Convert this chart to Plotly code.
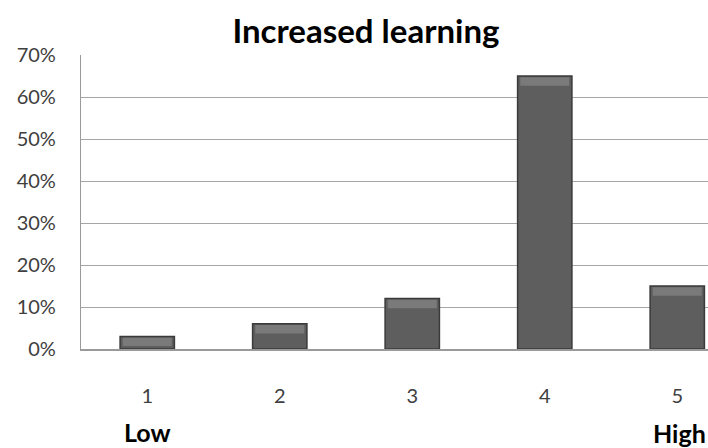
import plotly.graph_objects as go

categories = [1, 2, 3, 4, 5]
values = [0.03, 0.06, 0.12, 0.65, 0.15]
y_ticks = [0, 0.1, 0.2, 0.3, 0.4, 0.5, 0.6, 0.7]
y_labels = ["0%", "10%", "20%", "30%", "40%", "50%", "60%", "70%"]
title = "Increased learning"

FONT = "Lato, 'Open Sans', sans-serif"

fig = go.Figure()
fig.add_trace(go.Bar(
    x=categories, y=values, width=0.41,
    marker=dict(color="#5e5e5e", line=dict(color="#3a3a3a", width=1.5)),
    hoverinfo="skip",
))
# bevel highlight on top of each bar
bevel = 0.02
fig.add_trace(go.Bar(
    x=categories, y=[bevel] * len(values), base=[v - bevel - 0.003 for v in values],
    width=0.37,
    marker=dict(color="#7a7a7a", line=dict(width=0)),
    hoverinfo="skip",
))

fig.update_layout(
    width=708, height=448,
    margin=dict(l=81, r=0, t=55, b=99),
    paper_bgcolor="white", plot_bgcolor="white",
    showlegend=False, barmode="overlay",
    title=dict(text=title, x=366/708, xanchor="center", xref="container",
               y=1 - 31/448, yanchor="middle", yref="container",
               font=dict(family=FONT, size=33, color="#000000", weight="bold")),
    xaxis=dict(range=[0.5, 5.232], tickvals=categories, ticktext=[str(c) for c in categories],
               showgrid=False, zeroline=False, showline=True, linecolor="#9a9a9a", linewidth=1.5,
               ticks="", ticklabelstandoff=28,
               tickfont=dict(family=FONT, size=20, color="#404040")),
    yaxis=dict(range=[0, 0.7], tickvals=y_ticks, ticktext=y_labels,
               showgrid=True, gridcolor="#a6a6a6", gridwidth=1.2,
               zeroline=False, showline=True, linecolor="#9a9a9a", linewidth=1.2,
               ticks="", ticklabelstandoff=20,
               tickfont=dict(family=FONT, size=20, color="#404040")),
    annotations=[
        dict(text="<b>Low</b>", x=1, xref="x", y=(349 - 432) / 294, yref="paper",
             yanchor="middle", xanchor="center", showarrow=False,
             font=dict(family=FONT, size=25, color="#000000")),
        dict(text="<b>High</b>", x=(708 - 81) / 627, xref="paper", y=(349 - 433) / 294, yref="paper",
             yanchor="middle", xanchor="right", showarrow=False,
             font=dict(family=FONT, size=25, color="#000000")),
    ],
)

fig.write_html("out.html")
